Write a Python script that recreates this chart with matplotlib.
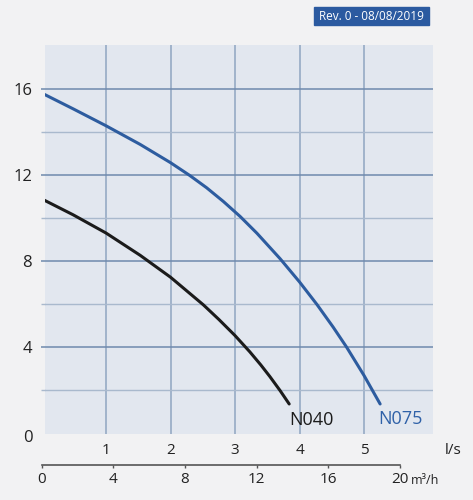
import matplotlib.pyplot as plt
from matplotlib.patches import Rectangle

# pump curves: flow (l/s) vs head (m)
flow_n075 = [0.04, 0.49, 1.0, 1.53, 2.0, 2.30, 2.56, 2.82, 3.08, 3.34, 3.70,
             4.0, 4.27, 4.52, 4.73, 5.0, 5.25]
head_n075 = [15.77, 15.09, 14.30, 13.43, 12.58, 11.98, 11.41, 10.77, 10.07, 9.29, 8.10,
             7.02, 5.97, 4.92, 3.98, 2.66, 1.33]
flow_n040 = [0.03, 0.49, 1.0, 1.53, 2.0, 2.51, 2.75, 3.0, 3.23, 3.40, 3.54, 3.70, 3.84]
head_n040 = [10.85, 10.15, 9.30, 8.26, 7.24, 5.95, 5.27, 4.52, 3.76, 3.15, 2.61, 1.95, 1.33]

head_ticks = [0, 4, 8, 12, 16]
head_minor = [2, 6, 10, 14]
ls_ticks = [1, 2, 3, 4, 5]
m3h_ticks = [0, 4, 8, 12, 16, 20]

W, H = 473, 500
plt.rcParams['font.family'] = ['Open Sans', 'DejaVu Sans']

fig = plt.figure(figsize=(W / 100, H / 100), dpi=100, facecolor='#f2f2f3')


def box(x0, y0, x1, y1):
    return [x0 / W, 1 - y1 / H, (x1 - x0) / W, (y1 - y0) / H]


# pixel mapping of the scales
x_zero, px_ls = 41.5, 64.5
y_zero, px_m = 432.5, 21.45

ax = fig.add_axes(box(45, 45, 433, 433.5))
ax.set_facecolor('#e2e7ef')
ax.set_xlim((45 - x_zero) / px_ls, (433 - x_zero) / px_ls)
ax.set_ylim((y_zero - 433.5) / px_m, (y_zero - 45) / px_m)
for s in ax.spines.values():
    s.set_visible(False)

ax.set_yticks(head_ticks[1:])
ax.set_yticks(head_minor, minor=True)
ax.set_xticks(ls_ticks)
ax.yaxis.grid(True, which='major', color='#6f8aad', lw=1.1)
ax.yaxis.grid(True, which='minor', color='#a9b9cd', lw=1.0)
ax.xaxis.grid(True, color='#8fa5c1', lw=1.1)
ax.set_axisbelow(True)
ax.tick_params(axis='y', which='major', length=2.9, width=1.1, color='#6f8aad',
               pad=6.3, labelsize=12, labelcolor='#222222')
ax.tick_params(axis='y', which='minor', length=2.9, width=1.0, color='#a9b9cd',
               labelleft=False)
ax.tick_params(axis='x', length=0, pad=6.5, labelsize=11, labelcolor='#222222')

# zero label sits a bit lower than the line
ax.annotate(str(head_ticks[0]), xy=(0, head_ticks[0]), xycoords=('axes fraction', 'data'),
            xytext=(-12.7, -5), textcoords='offset pixels', ha='right', va='center',
            fontsize=12, color='#222222')
ax.annotate('l/s', xy=(1, 0), xycoords='axes fraction', xytext=(20.5, -16.5),
            textcoords='offset pixels', ha='center', va='center', fontsize=11,
            color='#222222')

ax.plot(flow_n075, head_n075, color='#2d5c9f', lw=2.2, solid_capstyle='round',
        solid_joinstyle='round')
ax.plot(flow_n040, head_n040, color='#1b1b1b', lw=2.2, solid_capstyle='round',
        solid_joinstyle='round')

ax.annotate('N040', xy=(flow_n040[-1], head_n040[-1]), xytext=(0, -16),
            textcoords='offset pixels', ha='left', va='center', fontsize=13,
            color='#1b1b1b')
ax.annotate('N075', xy=(flow_n075[-1], head_n075[-1]), xytext=(-2, -15),
            textcoords='offset pixels', ha='left', va='center', fontsize=13,
            color='#2f61a8')

# second flow axis in m3/h
px_m3h = px_ls / 3.6
ax2 = fig.add_axes(box(30, 464.9, 445, 465))
ax2.set_facecolor('none')
ax2.set_xlim((30 - x_zero) / px_m3h, (445 - x_zero) / px_m3h)
ax2.set_yticks([])
for side in ['top', 'left', 'right']:
    ax2.spines[side].set_visible(False)
ax2.spines['bottom'].set_bounds(m3h_ticks[0], m3h_ticks[-1])
ax2.spines['bottom'].set_color('#555555')
ax2.spines['bottom'].set_linewidth(1.2)
ax2.set_xticks(m3h_ticks)
ax2.tick_params(axis='x', length=2.5, width=1.0, color='#555555', pad=2.2,
                labelsize=11, labelcolor='#222222')
fig.text(425 / W, 1 - 480 / H, 'm³/h', ha='center', va='center', fontsize=9,
         color='#222222')

# revision badge
fig.patches.append(Rectangle((314 / W, 1 - 25 / H), 115 / W, 18 / H,
                             transform=fig.transFigure, color='#2b5aa0'))
fig.text(371.5 / W, 1 - 16 / H, 'Rev. 0 - 08/08/2019', ha='center', va='center',
         fontsize=8.5, color='white')

fig.savefig('out.png', dpi=100, facecolor=fig.get_facecolor())
